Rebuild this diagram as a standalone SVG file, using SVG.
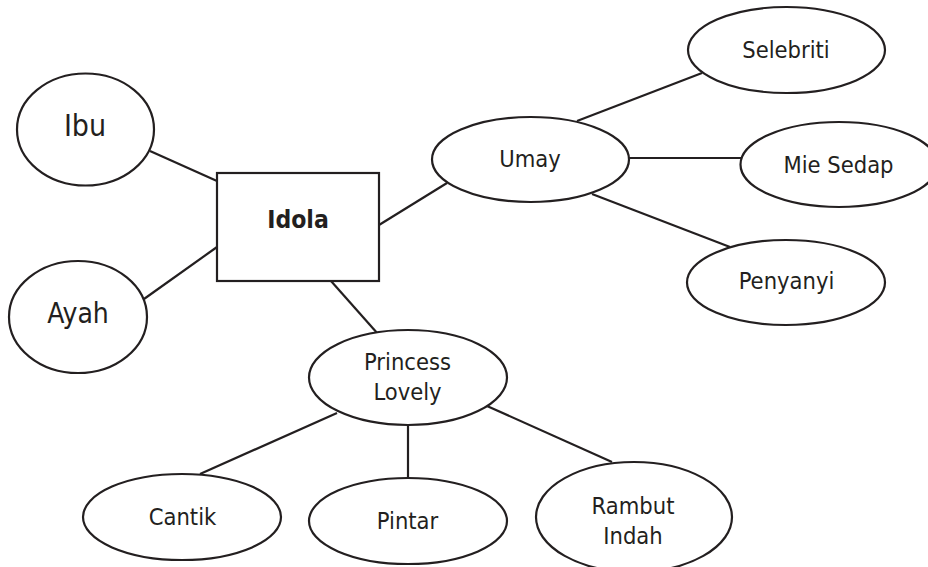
<svg xmlns="http://www.w3.org/2000/svg" width="928" height="567" viewBox="0 0 928 567">
<style>
  .n { fill: #ffffff; stroke: #231f20; stroke-width: 2.2; }
  .c line { stroke: #231f20; stroke-width: 2.2; }
  text { font-family: "DejaVu Sans Condensed", "DejaVu Sans", sans-serif; font-stretch: condensed; fill: #231f20; text-anchor: middle; font-size: 23.5px; }
  .b { font-weight: bold; font-size: 24.5px; }
</style>
<rect width="928" height="567" fill="#ffffff"/>
<g class="c" id="connectors">
  <line x1="150" y1="151" x2="217" y2="181"/>
  <line x1="144" y1="299" x2="217" y2="247"/>
  <line x1="379" y1="225" x2="447" y2="183"/>
  <line x1="331" y1="281" x2="378" y2="334"/>
  <line x1="577" y1="121" x2="702" y2="73"/>
  <line x1="629" y1="158" x2="741" y2="158"/>
  <line x1="592" y1="194" x2="730" y2="247"/>
  <line x1="337" y1="413" x2="200" y2="474"/>
  <line x1="408" y1="425" x2="408" y2="479"/>
  <line x1="487" y1="406" x2="612" y2="462"/>
</g>
<g id="ibu"><ellipse class="n" cx="85.5" cy="129.5" rx="68.5" ry="56"/><text x="85" y="136" style="font-size:30px">Ibu</text></g>
<g id="ayah"><ellipse class="n" cx="78" cy="317" rx="69" ry="56"/><text x="78" y="323" style="font-size:28px">Ayah</text></g>
<g id="idola"><rect class="n" x="217" y="173" width="162" height="108"/><text class="b" x="298" y="228">Idola</text></g>
<g id="umay"><ellipse class="n" cx="530.5" cy="159.5" rx="98.5" ry="42.5"/><text x="530" y="167">Umay</text></g>
<g id="selebriti"><ellipse class="n" cx="786.5" cy="50" rx="98.5" ry="43"/><text x="786" y="58">Selebriti</text></g>
<g id="miesedap"><ellipse class="n" cx="839" cy="164.5" rx="98.5" ry="42.5"/><text x="838.5" y="173">Mie Sedap</text></g>
<g id="penyanyi"><ellipse class="n" cx="786" cy="282.5" rx="99" ry="42.5"/><text x="786.5" y="289">Penyanyi</text></g>
<g id="princess"><ellipse class="n" cx="408" cy="377.5" rx="99" ry="47.5"/><text x="407.5" y="370">Princess</text><text x="407.5" y="400">Lovely</text></g>
<g id="cantik"><ellipse class="n" cx="182" cy="517" rx="99" ry="43"/><text x="182.5" y="525">Cantik</text></g>
<g id="pintar"><ellipse class="n" cx="408" cy="521" rx="99" ry="43"/><text x="407.5" y="529">Pintar</text></g>
<g id="rambut"><ellipse class="n" cx="634" cy="517" rx="98" ry="55"/><text x="633" y="514">Rambut</text><text x="633" y="544">Indah</text></g>
</svg>
